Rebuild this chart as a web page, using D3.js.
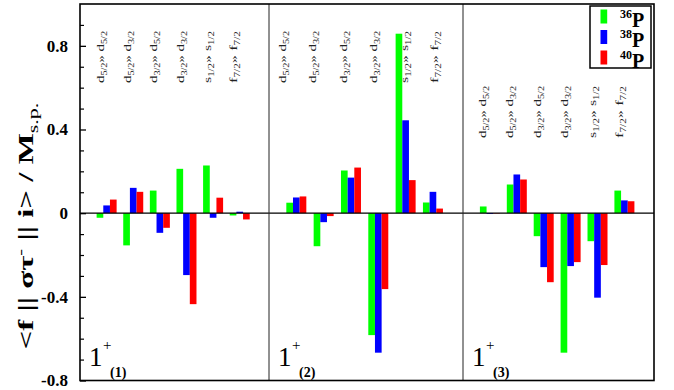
<!DOCTYPE html>
<html>
<head>
<meta charset="utf-8">
<script src="https://cdn.jsdelivr.net/npm/d3@7"></script>
<style>
  html, body { margin: 0; padding: 0; background: #fff; }
  svg { display: block; font-family: "Liberation Serif", "Times New Roman", serif; }
</style>
</head>
<body>
<svg id="chart" width="674" height="390"></svg>
<script>
// Single-particle transitions (initial orbital, j, final orbital, j)
const transitions = [
  ["d", "5/2", "d", "5/2"],
  ["d", "5/2", "d", "3/2"],
  ["d", "3/2", "d", "5/2"],
  ["d", "3/2", "d", "3/2"],
  ["s", "1/2", "s", "1/2"],
  ["f", "7/2", "f", "7/2"]
];
// Final 1+ states shown in the three panels
const states = ["(1)", "(2)", "(3)"];
// Isotopes (mass numbers)
const nuclei = ["36", "38", "40"];
const nucleusColors = ["#00ff00", "#0000ff", "#ff0000"];

// Normalised matrix elements, one row per 1+ state, one entry per transition
const p36 = [
  [-0.022, -0.154,  0.108,  0.212,  0.228, -0.011],
  [ 0.050, -0.158,  0.204, -0.583,  0.858,  0.051],
  [ 0.032,  0.137, -0.110, -0.667, -0.134,  0.108]
];
const p38 = [
  [ 0.037,  0.121, -0.094, -0.296, -0.022,  0.007],
  [ 0.075, -0.043,  0.170, -0.667,  0.444,  0.102],
  [-0.004,  0.185, -0.258, -0.253, -0.404,  0.061]
];
const p40 = [
  [ 0.065,  0.102, -0.070, -0.435,  0.074, -0.030],
  [ 0.080, -0.014,  0.218, -0.363,  0.158,  0.022],
  [-0.002,  0.161, -0.330, -0.234, -0.248,  0.057]
];
const seriesValues = [p36, p38, p40];

const majorTicks = [-0.8, -0.4, 0, 0.4, 0.8];
const majorTickLabels = ["-0.8", "-0.4", "0", "0.4", "0.8"];
const minorTicks = [-0.7, -0.6, -0.5, -0.3, -0.2, -0.1, 0.1, 0.2, 0.3, 0.5, 0.6, 0.7, 0.9];

// ---- layout ----
const svg = d3.select("#chart");
const plotLeft = 80, plotRight = 654, plotTop = 4, plotBottom = 380.5;
const panelEdges = [80, 269, 463, 654];
const labelBottoms = [83, 83, 138];   // start (bottom) of the rotated transition labels
const labelSpread = [0, 3.2, 0.6];      // extra spacing of labels per panel

const y = d3.scaleLinear().domain([-0.8, 1.0]).range([plotBottom, plotTop]);
const barOffset = d3.scaleBand().domain(nuclei).range([-10, 10]).padding(0);

// vertical text: outer group rotates, inner text is stretched along its reading direction
function verticalText(parent, x, y0, target) {
  const wrap = parent.append("g").attr("transform", `translate(${x},${y0}) rotate(-90)`);
  const t = wrap.append("text");
  return {
    text: t,
    fit() {
      const w = t.node().getComputedTextLength();
      const k = (w > 0 && isFinite(target / w)) ? target / w : 1.3;
      t.attr("transform", `scale(${k},1)`);
    }
  };
}

const labelTexts = [];

// bars and labels
states.forEach((st, s) => {
  const x = d3.scaleLinear().domain([0, 7.1]).range([panelEdges[s], panelEdges[s + 1]]);
  const g = svg.append("g").attr("class", "panel");
  transitions.forEach((tr, i) => {
    const cx = x(i + 1);
    nuclei.forEach((nuc, k) => {
      const v = seriesValues[k][s][i];
      g.append("rect")
        .attr("x", cx + barOffset(nuc))
        .attr("width", barOffset.bandwidth())
        .attr("y", Math.min(y(v), y(0)))
        .attr("height", Math.abs(y(v) - y(0)))
        .attr("fill", nucleusColors[k]);
    });
    // rotated transition label
    const lx = cx - 2.5 + (i - 2.5) * labelSpread[s];
    const vt = verticalText(g, lx, labelBottoms[s], 52);
    vt.text.attr("font-size", 11).attr("fill", "#222");
    vt.text.append("tspan").text(tr[0]);
    vt.text.append("tspan").attr("font-size", 7.5).attr("dy", 3).text(tr[1]);
    vt.text.append("tspan").attr("dy", -3).text("\u00bb " + tr[2]);
    vt.text.append("tspan").attr("font-size", 7.5).attr("dy", 3).text(tr[3]);
    labelTexts.push(vt);
  });
  // state label 1+(n)
  const px = panelEdges[s] + 9;
  svg.append("text").attr("x", px).attr("y", 366).attr("font-size", 27).text("1");
  svg.append("text").attr("x", px + 14).attr("y", 350).attr("font-size", 15).text("+");
  svg.append("text").attr("x", px + 21).attr("y", 377).attr("font-size", 14)
    .attr("font-weight", "bold").text(st);
});

// zero line
svg.append("line")
  .attr("x1", plotLeft).attr("x2", plotRight)
  .attr("y1", y(0)).attr("y2", y(0))
  .attr("stroke", "#000").attr("stroke-width", 1.2);

// panel dividers
[panelEdges[1], panelEdges[2]].forEach(px => {
  svg.append("line")
    .attr("x1", px).attr("x2", px).attr("y1", plotTop).attr("y2", plotBottom)
    .attr("stroke", "#222").attr("stroke-width", 1);
});

// frame
svg.append("rect")
  .attr("x", plotLeft).attr("y", plotTop)
  .attr("width", plotRight - plotLeft).attr("height", plotBottom - plotTop)
  .attr("fill", "none").attr("stroke", "#000").attr("stroke-width", 1.6);

// y axis: major ticks with labels, minor ticks without
const majorAxis = d3.axisLeft(y).tickValues(majorTicks).tickSize(-6).tickPadding(12)
  .tickFormat((d, i) => majorTickLabels[i]);
const ga = svg.append("g").attr("transform", `translate(${plotLeft},0)`).call(majorAxis);
ga.select(".domain").remove();
ga.selectAll(".tick line").attr("stroke", "#000").attr("stroke-width", 1.3);
ga.selectAll(".tick text")
  .attr("font-family", "Liberation Serif, serif")
  .attr("font-size", 17).attr("font-weight", "bold").attr("fill", "#000");

const minorAxis = d3.axisLeft(y).tickValues(minorTicks).tickSize(-4).tickFormat("");
const gm = svg.append("g").attr("transform", `translate(${plotLeft},0)`).call(minorAxis);
gm.select(".domain").remove();
gm.selectAll(".tick line").attr("stroke", "#000").attr("stroke-width", 1.2);

// y axis title
const yTitle = verticalText(svg, 33, 226 + 247 / 2, 247);
yTitle.text.attr("font-size", 21).attr("font-weight", "bold").attr("fill", "#000");
yTitle.text.append("tspan").text("<f || στ");
yTitle.text.append("tspan").attr("font-size", 13).attr("dy", -8).text("-");
yTitle.text.append("tspan").attr("dy", 8).text(" || i> / M");
yTitle.text.append("tspan").attr("font-size", 14).attr("font-weight", "normal").attr("dy", 5).text("s.p.");

// legend
const lg = svg.append("g");
lg.append("rect").attr("x", 590).attr("y", 6).attr("width", 61).attr("height", 62)
  .attr("fill", "#fff").attr("stroke", "#000").attr("stroke-width", 1.5);
nuclei.forEach((nuc, k) => {
  const ry = 9.5 + k * 20.5;
  lg.append("rect").attr("x", 600.5).attr("y", ry).attr("width", 6.7).attr("height", 14)
    .attr("fill", nucleusColors[k]);
  const tt = lg.append("text").attr("x", 620).attr("y", ry + 17).attr("font-weight", "bold");
  tt.append("tspan").attr("font-size", 12).attr("dy", -9).text(nuc);
  tt.append("tspan").attr("font-size", 20).attr("dy", 9).text("P");
});

// stretch all vertical texts once everything is in the document
labelTexts.forEach(vt => vt.fit());
yTitle.fit();
</script>
</body>
</html>
